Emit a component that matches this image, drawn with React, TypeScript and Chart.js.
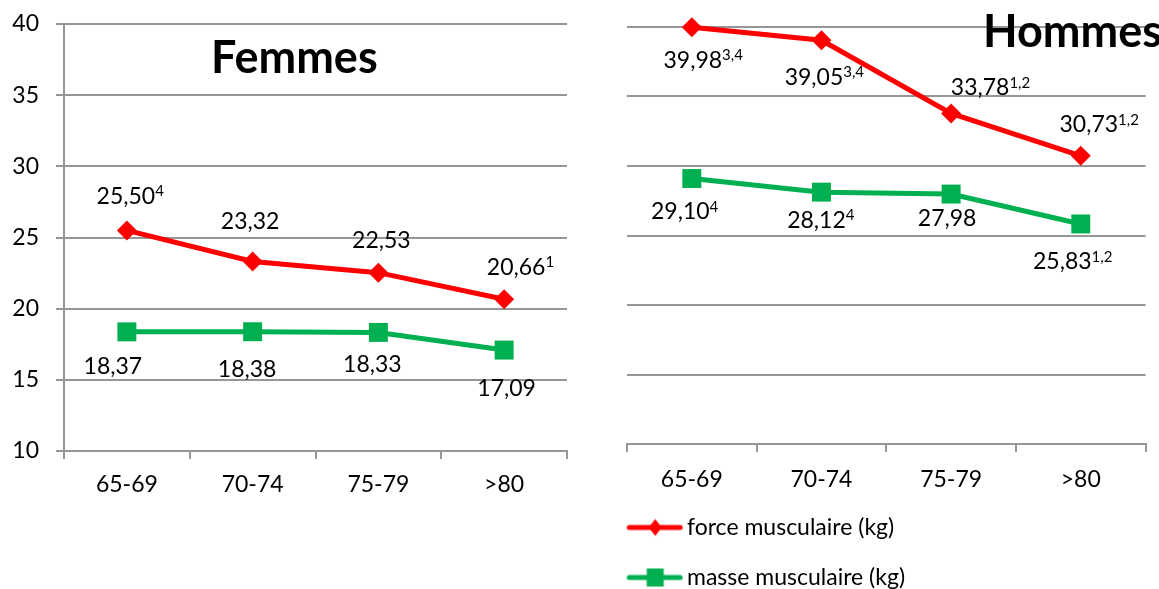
import React, { useEffect, useRef } from 'react';
import { Chart, registerables } from 'chart.js';

Chart.register(...registerables);

// ---------- data ----------
const categories = ['65-69', '70-74', '75-79', '>80'];
const seriesNames = ['force musculaire (kg)', 'masse musculaire (kg)'];
const femmesForce = [25.5, 23.32, 22.53, 20.66];
const femmesMasse = [18.37, 18.38, 18.33, 17.09];
const hommesForce = [39.98, 39.05, 33.78, 30.73];
const hommesMasse = [29.1, 28.12, 27.98, 25.83];
const femmesForceSup = ['4', '', '', '1'];
const femmesMasseSup = ['', '', '', ''];
const hommesForceSup = ['3,4', '3,4', '1,2', '1,2'];
const hommesMasseSup = ['4', '4', '', '1,2'];
const yMin = 10;
const yMax = 40;
const yStep = 5;
const titles = ['Femmes', 'Hommes'];

// ---------- label placement (layout, offsets from each point) ----------
const femmesForceOff = [[-1, -34], [-2.5, -40], [3, -32], [12, -32]];
const femmesMasseOff = [[-14, 35], [-5.5, 38], [-6, 32], [2.5, 38]];
const hommesForceOff = [[1, 33], [-7.5, 37], [29, -25.5], [8, -31]];
const hommesMasseOff = [[-11.5, 33.5], [-5, 28], [-4, 25], [-18.5, 38]];

const RED = '#FF0000';
const GREEN = '#00B050';
const GRID = '#969696';
const FONT = 'Lato';
const FS = 23;

const fmt = (v: number) => v.toFixed(2).replace('.', ',');

const labelPlugin = {
  id: 'pointLabels',
  afterDatasetsDraw(chart: any) {
    const ctx = chart.ctx;
    chart.data.datasets.forEach((ds: any, i: number) => {
      const meta = chart.getDatasetMeta(i);
      meta.data.forEach((pt: any, j: number) => {
        const txt = fmt(ds.data[j]);
        const off = ds.labelOffsets[j];
        const sup = ds.sups[j];
        ctx.save();
        ctx.fillStyle = '#000';
        ctx.textBaseline = 'middle';
        ctx.font = `${FS}px ${FONT}`;
        const w1 = ctx.measureText(txt).width;
        const cx = pt.x + off[0];
        const cy = pt.y + off[1];
        ctx.textAlign = 'center';
        ctx.fillText(txt, cx, cy);
        if (sup) {
          ctx.font = `15px ${FONT}`;
          ctx.textAlign = 'left';
          ctx.fillText(sup, cx + w1 / 2, cy - 5);
        }
        ctx.restore();
      });
    });
  },
};

const titlePlugin = {
  id: 'panelTitle',
  afterDraw(chart: any, _args: any, opts: any) {
    const ctx = chart.ctx;
    ctx.save();
    ctx.font = `bold 45px ${FONT}`;
    ctx.fillStyle = '#000';
    ctx.textAlign = 'left';
    ctx.textBaseline = 'alphabetic';
    ctx.fillText(opts.text, opts.x, opts.y);
    ctx.restore();
  },
};

function legendImage(color: string, shape: 'diamond' | 'square') {
  const c = document.createElement('canvas');
  c.width = 60;
  c.height = 22;
  const g = c.getContext('2d')!;
  g.strokeStyle = color;
  g.lineWidth = 5;
  g.lineCap = 'round';
  g.beginPath();
  g.moveTo(6, 11);
  g.lineTo(57, 11);
  g.stroke();
  g.fillStyle = color;
  if (shape === 'diamond') {
    g.beginPath();
    g.moveTo(32, 2.5);
    g.lineTo(38.5, 11);
    g.lineTo(32, 19.5);
    g.lineTo(25.5, 11);
    g.closePath();
    g.fill();
  } else {
    g.fillRect(32 - 8.5, 11 - 9, 17, 18);
  }
  return c;
}

function makeDatasets(force: number[], masse: number[], fSup: string[], mSup: string[], fOff: number[][], mOff: number[][]) {
  return [
    {
      label: seriesNames[0],
      data: force,
      borderColor: RED,
      backgroundColor: RED,
      borderWidth: 5,
      pointStyle: 'rectRot',
      pointRadius: 10,
      pointBorderWidth: 0,
      pointBackgroundColor: RED,
      tension: 0,
      clip: false,
      sups: fSup,
      labelOffsets: fOff,
    },
    {
      label: seriesNames[1],
      data: masse,
      borderColor: GREEN,
      backgroundColor: GREEN,
      borderWidth: 5,
      pointStyle: 'rect',
      pointRadius: 13.4,
      pointBorderWidth: 0,
      pointBackgroundColor: GREEN,
      tension: 0,
      clip: false,
      sups: mSup,
      labelOffsets: mOff,
    },
  ];
}

export default function App() {
  const leftRef = useRef<HTMLCanvasElement>(null);
  const rightRef = useRef<HTMLCanvasElement>(null);

  useEffect(() => {
    let cancelled = false;
    const charts: Chart[] = [];
    const build = () => {
      if (cancelled || !leftRef.current || !rightRef.current) return;
      const tickFont = { family: FONT, size: FS };

      charts.push(
        new Chart(leftRef.current, {
          type: 'line',
          data: {
            labels: categories,
            datasets: makeDatasets(femmesForce, femmesMasse, femmesForceSup, femmesMasseSup, femmesForceOff, femmesMasseOff) as any,
          },
          plugins: [labelPlugin, titlePlugin],
          options: {
            responsive: false,
            animation: false,
            events: [],
            layout: { padding: { top: 24, right: 33, left: 0, bottom: 0 } },
            plugins: {
              legend: { display: false },
              tooltip: { enabled: false },
              panelTitle: { text: titles[0], x: 211, y: 73 },
            } as any,
            scales: {
              x: {
                offset: true,
                grid: { offset: true, drawOnChartArea: false, color: GRID, lineWidth: 2, tickLength: 8 },
                border: { display: true, color: GRID, width: 2 },
                ticks: { font: tickFont, color: '#000', padding: 12, maxRotation: 0 },
                afterFit: (s: any) => { s.height = 49; },
              },
              y: {
                min: yMin,
                max: yMax,
                grid: { color: GRID, lineWidth: 2, tickLength: 8 },
                border: { display: true, color: GRID, width: 2 },
                ticks: { stepSize: yStep, font: tickFont, color: '#000', padding: 17 },
                afterFit: (s: any) => { s.width = 64; s.paddingTop = 0; s.paddingBottom = 0; },
              },
            },
          },
        } as any)
      );

      charts.push(
        new Chart(rightRef.current, {
          type: 'line',
          data: {
            labels: categories,
            datasets: makeDatasets(hommesForce, hommesMasse, hommesForceSup, hommesMasseSup, hommesForceOff, hommesMasseOff) as any,
          },
          plugins: [labelPlugin, titlePlugin],
          options: {
            responsive: false,
            animation: false,
            events: [],
            layout: { padding: { top: 27, right: 4, left: 0, bottom: 0 } },
            plugins: {
              tooltip: { enabled: false },
              panelTitle: { text: titles[1], x: 379, y: 47 },
              legend: {
                display: true,
                position: 'bottom',
                align: 'start',
                labels: {
                  font: { family: FONT, size: FS },
                  color: '#000',
                  padding: 27,
                  usePointStyle: true,
                  pointStyleWidth: 44.5,
                  generateLabels: () => [
                    { text: seriesNames[0], pointStyle: legendImage(RED, 'diamond'), fillStyle: RED, strokeStyle: RED, lineWidth: 0, hidden: false, datasetIndex: 0 },
                    { text: seriesNames[1], pointStyle: legendImage(GREEN, 'square'), fillStyle: GREEN, strokeStyle: GREEN, lineWidth: 0, hidden: false, datasetIndex: 1 },
                  ],
                },
              },
            } as any,
            scales: {
              x: {
                offset: true,
                grid: { offset: true, drawOnChartArea: false, color: GRID, lineWidth: 2, tickLength: 8 },
                border: { display: true, color: GRID, width: 2 },
                ticks: { font: tickFont, color: '#000', padding: 14, maxRotation: 0 },
                afterFit: (s: any) => { s.height = 45; },
              },
              y: {
                min: yMin,
                max: yMax,
                grid: { color: GRID, lineWidth: 2, drawTicks: false, tickLength: 0 },
                border: { display: false },
                ticks: { stepSize: yStep, display: false },
                afterFit: (s: any) => { s.width = 23; s.paddingTop = 0; s.paddingBottom = 0; },
              },
            },
          },
        } as any)
      );
    };

    Promise.all([
      document.fonts.load(`${FS}px ${FONT}`),
      document.fonts.load(`bold 45px ${FONT}`),
    ]).then(build, build);

    return () => {
      cancelled = true;
      charts.forEach((c) => c.destroy());
    };
  }, []);

  return (
    <div style={{ position: 'fixed', left: 0, top: 0, width: 1159, height: 589, overflow: 'hidden', background: '#fff' }}>
      <canvas ref={leftRef} width={600} height={500} style={{ position: 'absolute', left: 0, top: 0 }} />
      <canvas ref={rightRef} width={555} height={599} style={{ position: 'absolute', left: 604, top: 0 }} />
    </div>
  );
}
